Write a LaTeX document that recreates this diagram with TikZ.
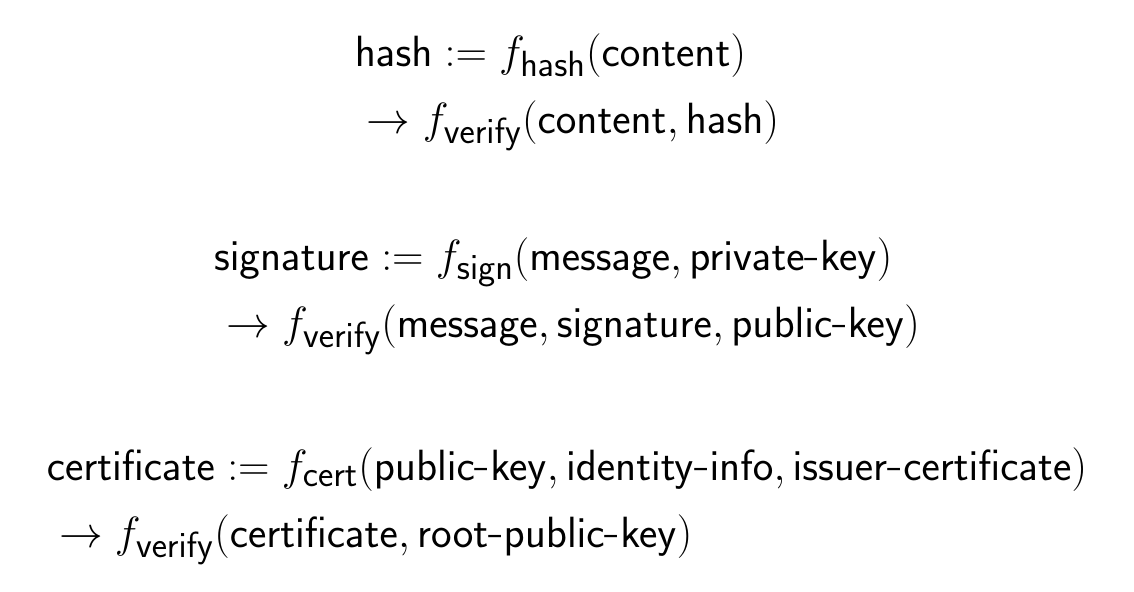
\documentclass[tikz,border=0pt]{standalone}
\usepackage{amsmath}
\begin{document}
\begin{tikzpicture}[x=0.02cm,y=-0.02cm,
  eq/.style={align=left,font=\fontsize{29}{38}\selectfont,inner sep=0pt}]
\useasboundingbox (0,0) rectangle (1134,592);
\node[eq] (h) at (567,92) {$\mathsf{hash} := f_{\mathsf{hash}}(\mathsf{content})$\\
$\;\to f_{\mathsf{verify}}(\mathsf{content}, \mathsf{hash})$};
\node[eq] (s) at (567,296) {$\mathsf{signature} := f_{\mathsf{sign}}(\mathsf{message}, \mathsf{private\text{-}key})$\\
$\;\to f_{\mathsf{verify}}(\mathsf{message}, \mathsf{signature}, \mathsf{public\text{-}key})$};
\node[eq] (c) at (567,506) {$\mathsf{certificate} := f_{\mathsf{cert}}(\mathsf{public\text{-}key}, \mathsf{identity\text{-}info}, \mathsf{issuer\text{-}certificate})$\\
$\;\to f_{\mathsf{verify}}(\mathsf{certificate}, \mathsf{root\text{-}public\text{-}key})$};
\end{tikzpicture}
\end{document}
